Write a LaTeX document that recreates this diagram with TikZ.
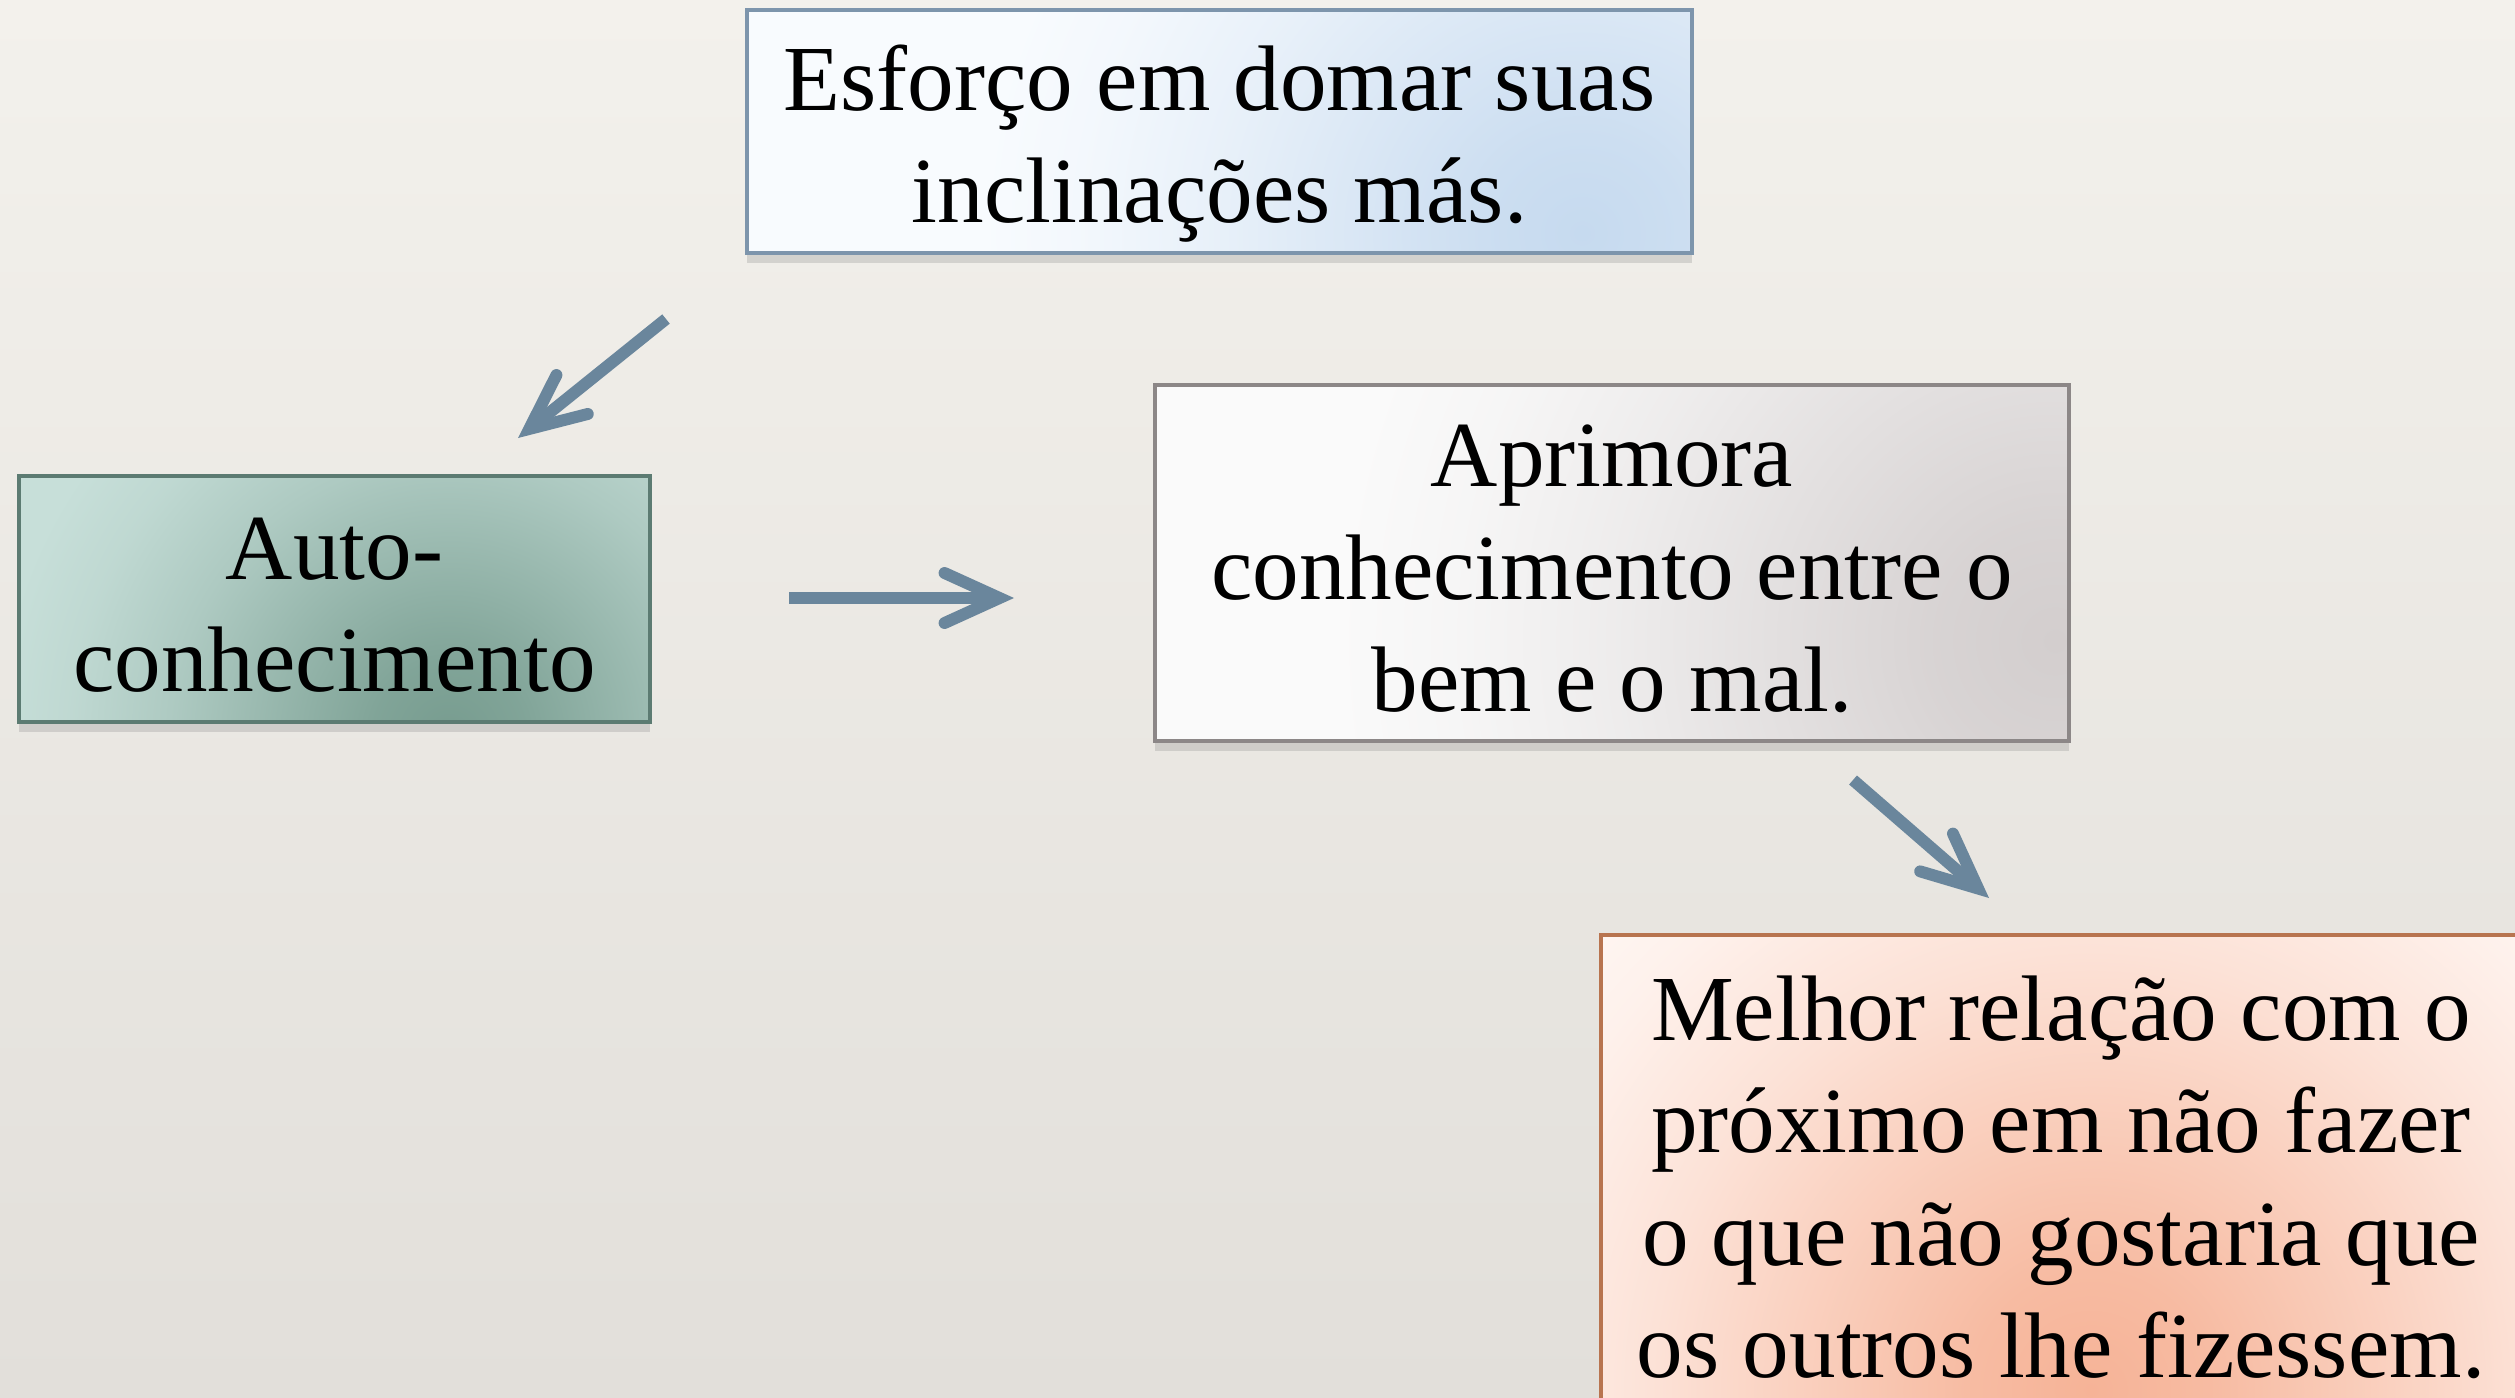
\documentclass[tikz,border=0pt]{standalone}
\usepackage{fontspec}
\setmainfont{Liberation Serif}
\usepackage{xcolor}
\usetikzlibrary{arrows.meta,positioning,calc,shadows}
\definecolor{bgtop}{HTML}{F3F1EC}
\definecolor{bgbot}{HTML}{E2DFDA}
\definecolor{arrowblue}{HTML}{6A869C}
\definecolor{blueedge}{HTML}{7D95AC}
\definecolor{bluebase}{HTML}{F8FBFE}
\definecolor{blueglow}{HTML}{C6DAEF}
\definecolor{greenedge}{HTML}{5C7B72}
\definecolor{greenbase}{HTML}{C7DFD9}
\definecolor{greenglow}{HTML}{779C8F}
\definecolor{greyedge}{HTML}{8C8787}
\definecolor{greybase}{HTML}{FAFAFA}
\definecolor{greyglow}{HTML}{D3CECE}
\definecolor{peachedge}{HTML}{B8744F}
\definecolor{peachbase}{HTML}{FFF8F5}
\definecolor{peachglow}{HTML}{F6B397}
\colorlet{glowin}{black}
\colorlet{glowout}{white}
% soft radial fall-off, glowout well inside the circle
\pgfdeclareradialshading[glowin,glowout]{softglow}{\pgfpoint{0bp}{0bp}}{%
  color(0bp)=(glowin); color(3bp)=(glowin!88!glowout);
  color(7bp)=(glowin!60!glowout); color(11bp)=(glowin!32!glowout);
  color(15bp)=(glowin!10!glowout); color(18bp)=(glowout);
  color(50bp)=(glowout)}
\newcommand{\topline}[1]{\rule{0pt}{#1}}

\begin{document}
\begin{tikzpicture}[
  every node/.style={font=\fontsize{26.5}{32}\selectfont,align=center},
  card/.style={draw=#1,line width=0.9pt,inner sep=0pt,
    drop shadow={shadow xshift=0pt,shadow yshift=-1mm,opacity=0.25}},
  glow/.style n args={4}{fill=#2,path picture={
    \colorlet{glowin}{#3}\colorlet{glowout}{#2}
    \shade[shading=softglow]
      ($(path picture bounding box.south west)+(#1)$) circle (#4);}},
  arr/.style={arrowblue,line width=3.4pt,
    -{Straight Barb[length=5.5mm,width=5mm,line cap=round]}}
]
\useasboundingbox (0,0) rectangle (25.15,-13.97);
\clip (0,0) rectangle (25.15,-13.97);
\shade[top color=bgtop,bottom color=bgbot] (0,0) rectangle (25.15,-13.97);

\node[card=blueedge,glow={8.7,0.2}{bluebase}{blueglow}{8cm},
  minimum width=9.45cm,minimum height=2.43cm] (esforco) at (12.195,-1.315)
  {\topline{25.5pt}Esforço em domar suas\\inclinações más.};
\node[card=greenedge,glow={4.3,-0.15}{greenbase}{greenglow}{6.3cm},
  minimum width=6.31cm,minimum height=2.46cm] (auto) at (3.345,-5.99)
  {\topline{21pt}Auto-\\conhecimento};
\node[card=greyedge,glow={9.0,1.0}{greybase}{greyglow}{10cm},
  minimum width=9.14cm,minimum height=3.56cm] (aprimora) at (16.12,-5.63)
  {\topline{21pt}Aprimora\\conhecimento entre o\\bem e o mal.};
\node[card=peachedge,glow={4.9,0.3}{peachbase}{peachglow}{10cm},
  minimum width=9.2cm,minimum height=4.85cm] (melhor) at (20.61,-11.775)
  {Melhor relação com o\\próximo em não fazer\\o que não gostaria que\\os outros lhe fizessem.};

\coordinate (a1s) at (6.66,-3.19);
\coordinate (a1e) at (5.18,-4.38);
\coordinate (a2s) at (7.89,-5.98);
\coordinate (a2e) at (10.14,-5.98);
\coordinate (a3s) at (18.53,-7.80);
\coordinate (a3e) at (19.89,-8.98);
\draw[arr] (a1s)--(a1e);
\draw[arr] (a2s)--(a2e);
\draw[arr] (a3s)--(a3e);
\end{tikzpicture}
\end{document}
